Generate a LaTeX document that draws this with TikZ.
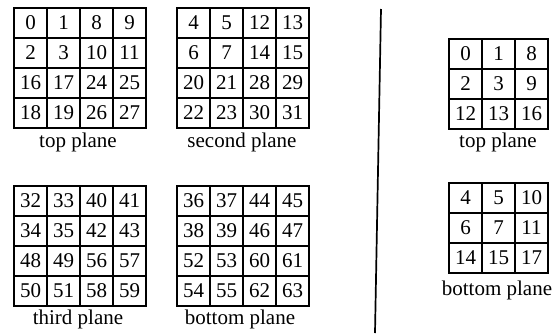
\documentclass[tikz,border=0pt]{standalone}
\usepackage{fontspec}
\setmainfont{Liberation Serif}
\begin{document}
\begin{tikzpicture}[x=1pt,y=-1pt,
  cell/.style={draw,line width=1.6pt,minimum width=33pt,minimum height=30pt,inner sep=0pt,font=\fontsize{21}{25}\selectfont},
  lbl/.style={inner sep=0pt,font=\fontsize{21}{25}\selectfont}]
\useasboundingbox (0,0) rectangle (555,333);
% top plane (left)
\foreach \row [count=\r from 0] in {{0,1,8,9},{2,3,10,11},{16,17,24,25},{18,19,26,27}}
  \foreach \v [count=\c from 0] in \row
    \node[cell] (a-\r-\c) at ({30.5+33*\c},{23+30*\r}) {\v};
\node[lbl] (la) at (78,142) {top plane};
% second plane
\foreach \row [count=\r from 0] in {{4,5,12,13},{6,7,14,15},{20,21,28,29},{22,23,30,31}}
  \foreach \v [count=\c from 0] in \row
    \node[cell] (b-\r-\c) at ({193.5+33*\c},{23+30*\r}) {\v};
\node[lbl] (lb) at (242,142) {second plane};
% third plane
\foreach \row [count=\r from 0] in {{32,33,40,41},{34,35,42,43},{48,49,56,57},{50,51,58,59}}
  \foreach \v [count=\c from 0] in \row
    \node[cell] (c-\r-\c) at ({30.5+33*\c},{201+30*\r}) {\v};
\node[lbl] (lc) at (78,319) {third plane};
% bottom plane
\foreach \row [count=\r from 0] in {{36,37,44,45},{38,39,46,47},{52,53,60,61},{54,55,62,63}}
  \foreach \v [count=\c from 0] in \row
    \node[cell] (d-\r-\c) at ({193.5+33*\c},{201+30*\r}) {\v};
\node[lbl] (ld) at (240,319) {bottom plane};
% divider
\coordinate (vtop) at (381,9);
\coordinate (vbot) at (375,333);
\draw[line width=1.7pt] (vtop) -- (vbot);
% right top plane
\foreach \row [count=\r from 0] in {{0,1,8},{2,3,9},{12,13,16}}
  \foreach \v [count=\c from 0] in \row
    \node[cell] (e-\r-\c) at ({465.5+33*\c},{54+30*\r}) {\v};
\node[lbl] (le) at (498,142) {top plane};
% right bottom plane
\foreach \row [count=\r from 0] in {{4,5,10},{6,7,11},{14,15,17}}
  \foreach \v [count=\c from 0] in \row
    \node[cell] (f-\r-\c) at ({465.5+33*\c},{198+30*\r}) {\v};
\node[lbl] (lf) at (497,290) {bottom plane};
\end{tikzpicture}
\end{document}
